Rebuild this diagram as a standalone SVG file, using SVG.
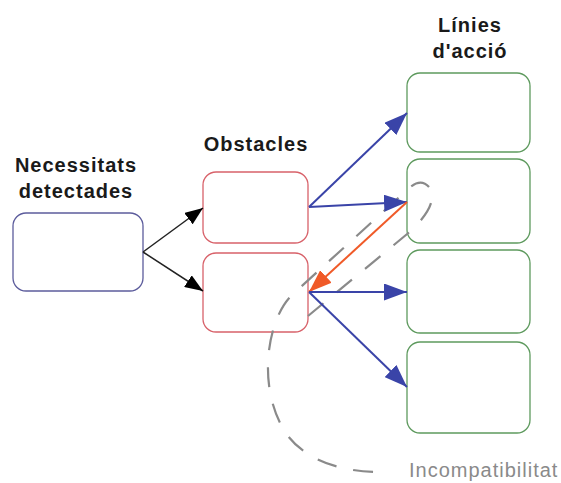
<svg xmlns="http://www.w3.org/2000/svg" width="561" height="483" viewBox="0 0 561 483">
  <style>
    .title { font-family: "Liberation Sans", Arial, sans-serif; font-weight: bold; font-size: 20px; letter-spacing: 1px; fill: #1a1a1a; text-anchor: middle; }
    .note { font-family: "Liberation Sans", Arial, sans-serif; font-size: 20px; letter-spacing: 1px; fill: #8a8a8a; }
    .box { fill: #ffffff; stroke-width: 1.3; }
    .need { stroke: #5c5c9c; }
    .obst { stroke: #d8626a; }
    .line { stroke: #5e9a5e; }
    .blk { stroke: #222222; stroke-width: 1.5; fill: none; }
    .blu { stroke: #3a44a8; stroke-width: 2; fill: none; }
    .org { stroke: #f05a28; stroke-width: 2; fill: none; }
    .dash { stroke: #8a8a8a; stroke-width: 2.2; fill: none; stroke-dasharray: 20 17; }
  </style>
  <defs>
    <marker id="headBlack" markerUnits="userSpaceOnUse" markerWidth="18" markerHeight="14" refX="18" refY="7" orient="auto">
      <path d="M0,0 L18,7 L0,14 z" fill="#000000"/>
    </marker>
    <marker id="headBlue" markerUnits="userSpaceOnUse" markerWidth="23" markerHeight="17" refX="23" refY="8.5" orient="auto">
      <path d="M0,0 L23,8.5 L0,17 z" fill="#3a44a8"/>
    </marker>
    <marker id="headOrange" markerUnits="userSpaceOnUse" markerWidth="23" markerHeight="17" refX="23" refY="8.5" orient="auto">
      <path d="M0,0 L23,8.5 L0,17 z" fill="#f05a28"/>
    </marker>
  </defs>
  <rect width="561" height="483" fill="#ffffff"/>

  <!-- column headings -->
  <text class="title" x="76" y="172">Necessitats</text>
  <text class="title" x="76" y="198">detectades</text>
  <text class="title" x="256" y="151">Obstacles</text>
  <text class="title" x="470" y="32">Línies</text>
  <text class="title" x="470" y="58">d'acció</text>

  <g id="necessitats">
    <rect class="box need" x="13" y="213" width="130" height="78" rx="13"/>
  </g>
  <g id="obstacle-1">
    <rect class="box obst" x="203" y="172" width="105" height="71" rx="13"/>
  </g>
  <g id="obstacle-2">
    <rect class="box obst" x="203" y="253" width="105" height="79" rx="13"/>
  </g>
  <g id="linia-1">
    <rect class="box line" x="407" y="73" width="123" height="79" rx="13"/>
  </g>
  <g id="linia-2">
    <rect class="box line" x="407" y="159" width="123" height="84" rx="13"/>
  </g>
  <g id="linia-3">
    <rect class="box line" x="407" y="250" width="123" height="83" rx="13"/>
  </g>
  <g id="linia-4">
    <rect class="box line" x="407" y="342" width="123" height="91" rx="13"/>
  </g>

  <!-- incompatibility lasso -->
  <g id="incompatibilitat">
    <path class="dash" d="M308 316 L412 230 Q440 202 429 187 Q420 177 407 190 L292 295 C266 320 256 392 288 436 C308 462 345 472 379 472"/>
    <text class="note" x="409" y="477">Incompatibilitat</text>
  </g>

  <g id="connectors">
    <line class="blk" x1="143" y1="252" x2="203" y2="208" marker-end="url(#headBlack)"/>
    <line class="blk" x1="143" y1="252" x2="203" y2="291" marker-end="url(#headBlack)"/>
    <line class="blu" x1="309" y1="207" x2="407" y2="113" marker-end="url(#headBlue)"/>
    <line class="blu" x1="309" y1="207" x2="407" y2="202" marker-end="url(#headBlue)"/>
    <line class="org" x1="407" y1="202" x2="309" y2="292" marker-end="url(#headOrange)"/>
    <line class="blu" x1="309" y1="292" x2="407" y2="292" marker-end="url(#headBlue)"/>
    <line class="blu" x1="309" y1="292" x2="407" y2="387" marker-end="url(#headBlue)"/>
  </g>
</svg>
